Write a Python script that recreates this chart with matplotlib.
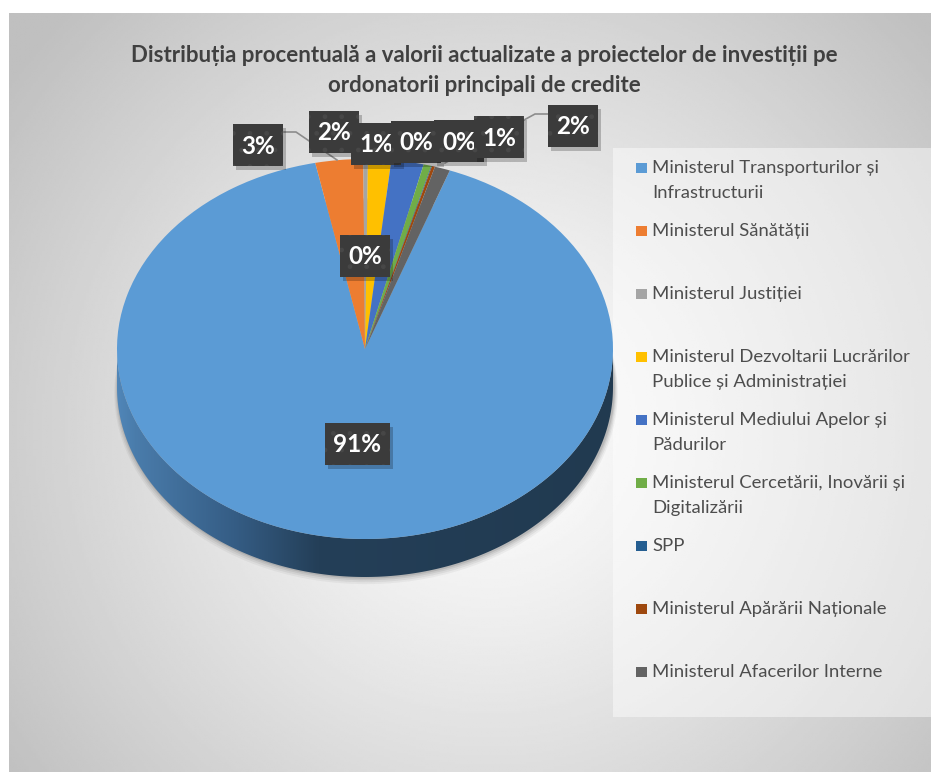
import numpy as np
import matplotlib
matplotlib.use('Agg')
import matplotlib.pyplot as plt
from matplotlib.patches import Rectangle, Polygon, Ellipse
from matplotlib.colors import LinearSegmentedColormap

# data
categories = [
    'Ministerul Transporturilor și\nInfrastructurii',
    'Ministerul Sănătății',
    'Ministerul Justiției',
    'Ministerul Dezvoltarii Lucrărilor\nPublice și Administrației',
    'Ministerul Mediului Apelor și\nPădurilor',
    'Ministerul Cercetării, Inovării și\nDigitalizării',
    'SPP',
    'Ministerul Apărării Naționale',
    'Ministerul Afacerilor Interne',
]
shares = [91.0, 3.1, 0.3, 1.5, 2.1, 0.5, 0.05, 0.2, 1.0]
pct_labels = ['91%', '3%', '0%', '2%', '1%', '0%', '0%', '1%', '2%']
colors = ['#5b9bd5', '#ed7d31', '#a5a5a5', '#ffc000', '#4472c4',
          '#70ad47', '#255e91', '#9e480e', '#636363']

title = ('Distribuția procentuală a valorii actualizate a proiectelor de investiții pe\n'
         'ordonatorii principali de credite')

W, H = 931, 772
plt.rcParams['font.family'] = ['Lato', 'DejaVu Sans']

fig = plt.figure(figsize=(W / 100, H / 100), dpi=100)
fig.patch.set_facecolor('white')


def pixel_axes(z):
    a = fig.add_axes([0, 0, 1, 1], zorder=z)
    a.set_xlim(0, W)
    a.set_ylim(H, 0)
    a.axis('off')
    a.patch.set_facecolor('none')
    return a


# --- background: radial grey gradient ---
bg = pixel_axes(0)
x0, y0, x1, y1 = 9, 13, W, H
xx, yy = np.meshgrid(np.linspace(x0, x1, 400), np.linspace(y0, y1, 340))
r = np.hypot(xx - 490, yy - 430) / 600
g = 1 - 0.25 * np.clip(r, 0, 1) ** 1.15
bg.imshow(g, cmap='gray', vmin=0, vmax=1, extent=(x0, x1, y1, y0),
          aspect='auto', interpolation='bilinear', zorder=0)
bg.set_xlim(0, W)
bg.set_ylim(H, 0)

# legend panel
bg.add_patch(Rectangle((613, 148), W - 613, 717 - 148, fc='white', alpha=0.45, lw=0, zorder=1))

# title
for k, line in enumerate(title.split('\n')):
    bg.text(484, 55 + 30 * k, line, ha='center', va='center', fontsize=16,
            fontweight='bold', color='#404040', zorder=2)

# --- pie (top face + side) ---
cx, cy, rx, ry, depth = 365, 349, 248, 190, 38
d = depth / ry
pa = fig.add_axes([(cx - rx) / W, 1 - (cy + ry + depth) / H, 2 * rx / W, (2 * ry + depth) / H], zorder=1)
wedges, _ = pa.pie(shares, colors=colors, startangle=70, counterclock=False,
                   wedgeprops=dict(linewidth=0))
for w in wedges:
    w.set_zorder(3)

phi = np.linspace(np.pi, 2 * np.pi, 300)
top = np.c_[np.cos(phi), np.sin(phi)]
bot = np.c_[np.cos(phi[::-1]), np.sin(phi[::-1]) - d]
side = Polygon(np.vstack([top, bot]), closed=True, fc='none', lw=0)
pa.add_patch(side)

stops = [(0.0, '#5086b8'), (0.035, '#4a7cab'), (0.235, '#355d85'),
         (0.405, '#243f58'), (1.0, '#213a50')]
side_cmap = LinearSegmentedColormap.from_list('side', stops)
img = pa.imshow(np.linspace(0, 1, 256)[None, :], cmap=side_cmap, extent=(-1, 1, -1 - d, 0),
                aspect='auto', zorder=2)
img.set_clip_path(side)

# soft shadow under the pie
for s, a in [(0.03, 0.06), (0.022, 0.08), (0.014, 0.1), (0.007, 0.14)]:
    pa.add_patch(Ellipse((0.004, -d - s), 2 + s, 2 + s * 0.5, fc='#404040', alpha=a,
                         lw=0, zorder=1, clip_on=False))

pa.set_aspect('auto')
pa.set_xlim(-1, 1)
pa.set_ylim(-1 - d, 1)
pa.axis('off')
pa.patch.set_facecolor('none')

# --- overlay: data labels, leader lines, legend ---
ov = pixel_axes(2)

label_xy = [(357, 444), (258, 145), (365, 256), (334, 132), (376, 144),
            (416, 142), (459, 141), (499, 137), (573, 126)]
leaders = [[(284, 132), (296, 132), (337, 160)],
           [(548, 114), (535, 114), (445, 163)]]
for pts in leaders:
    xs, ys = zip(*pts)
    ov.plot(xs, ys, color='#8c8c8c', lw=1.2, zorder=5)

box_h = 42
for i, (txt, (lx, ly)) in enumerate(zip(pct_labels, label_xy)):
    bw = 20 + 15 * len(txt)
    z = 10 + 3 * i
    ov.add_patch(Rectangle((lx - bw / 2 + 3, ly - box_h / 2 + 4), bw, box_h,
                           fc='black', alpha=0.22, lw=0, zorder=z))
    ov.add_patch(Rectangle((lx - bw / 2, ly - box_h / 2), bw, box_h,
                           fc='#3b3b3b', ec='#474747', hatch='.', lw=0, zorder=z + 1))
    ov.text(lx, ly + 1, txt, ha='center', va='center', fontsize=17.5, fontweight='bold',
            color='white', zorder=z + 2)

leg_y0, leg_step = 168, 63
for i, (name, col) in enumerate(zip(categories, colors)):
    y = leg_y0 + i * leg_step
    ov.add_patch(Rectangle((636, y - 5.5), 10.5, 10.5, fc=col, lw=0, zorder=5))
    for k, line in enumerate(name.split('\n')):
        ov.text(652, y + 25 * k, line, ha='left', va='center', fontsize=13.3,
                color='#4d4d4d', zorder=5)

fig.savefig('out.png', dpi=100, facecolor=fig.get_facecolor())
